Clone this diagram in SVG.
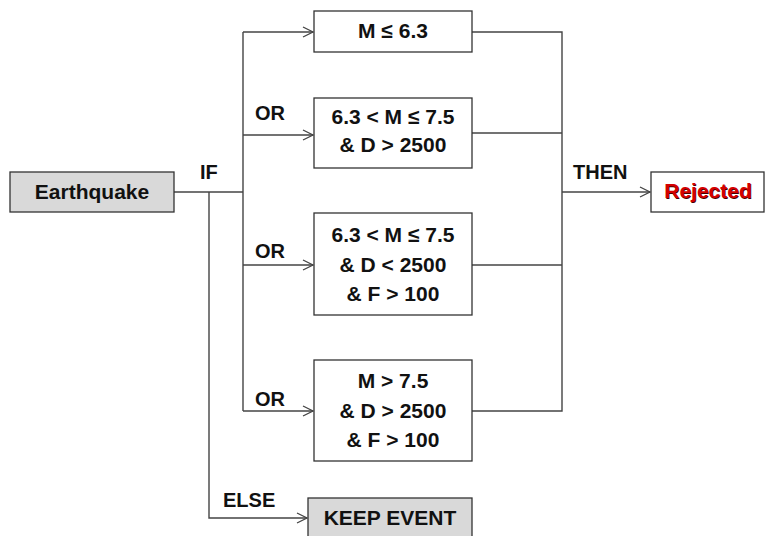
<svg xmlns="http://www.w3.org/2000/svg" width="765" height="536" viewBox="0 0 765 536">
<style>
.box{fill:#fff;stroke:#333;stroke-width:1.3}
.grey{fill:#d9d9d9}
.t{font-family:"Liberation Sans",Arial,sans-serif;font-weight:bold;font-size:21px;fill:#111;text-anchor:middle}
.lbl{font-family:"Liberation Sans",Arial,sans-serif;font-weight:bold;font-size:20px;fill:#111}
.ln{fill:none;stroke:#444;stroke-width:1.4}
</style>
<defs>
<marker id="arr" markerUnits="userSpaceOnUse" markerWidth="14" markerHeight="12" refX="11" refY="6" orient="auto">
<path d="M1,1 L11,6 L1,11" fill="none" stroke="#444" stroke-width="1.3"/>
</marker>
</defs>
<g id="connectors">
<path class="ln" d="M174,192 H243"/>
<path class="ln" d="M243,32 V411"/>
<path class="ln" d="M243,32 H313" marker-end="url(#arr)"/>
<path class="ln" d="M243,135 H313" marker-end="url(#arr)"/>
<path class="ln" d="M243,265 H313" marker-end="url(#arr)"/>
<path class="ln" d="M243,411 H313" marker-end="url(#arr)"/>
<path class="ln" d="M209,192 V518 H307" marker-end="url(#arr)"/>
<path class="ln" d="M472,32 H562 V411 H472"/>
<path class="ln" d="M472,133 H562"/>
<path class="ln" d="M472,265 H562"/>
<path class="ln" d="M562,192 H650" marker-end="url(#arr)"/>
<text class="lbl" x="200" y="179">IF</text>
<text class="lbl" x="255" y="120">OR</text>
<text class="lbl" x="255" y="258">OR</text>
<text class="lbl" x="255" y="406">OR</text>
<text class="lbl" x="223" y="507">ELSE</text>
<text class="lbl" x="573" y="179">THEN</text>
</g>
<g id="earthquake">
<rect class="box grey" x="10" y="172" width="164" height="40"/>
<text class="t" x="92" y="199">Earthquake</text>
</g>
<g id="cond1">
<rect class="box" x="314" y="11" width="158" height="41"/>
<text class="t" x="393" y="38">M ≤ 6.3</text>
</g>
<g id="cond2">
<rect class="box" x="314" y="98" width="158" height="70"/>
<text class="t" x="393" y="124">6.3 &lt; M ≤ 7.5</text>
<text class="t" x="393" y="152">&amp; D &gt; 2500</text>
</g>
<g id="cond3">
<rect class="box" x="314" y="213" width="158" height="102"/>
<text class="t" x="393" y="242">6.3 &lt; M ≤ 7.5</text>
<text class="t" x="393" y="272">&amp; D &lt; 2500</text>
<text class="t" x="393" y="301">&amp; F &gt; 100</text>
</g>
<g id="cond4">
<rect class="box" x="314" y="360" width="158" height="101"/>
<text class="t" x="393" y="388">M &gt; 7.5</text>
<text class="t" x="393" y="418">&amp; D &gt; 2500</text>
<text class="t" x="393" y="447">&amp; F &gt; 100</text>
</g>
<g id="rejected">
<rect class="box" x="651" y="172" width="113" height="40"/>
<text class="t" x="708.8" y="198.8" style="fill:#400">Rejected</text>
<text class="t" x="708" y="198" style="fill:#d40000">Rejected</text>
</g>
<g id="keep">
<rect class="box grey" x="308" y="498" width="164" height="50"/>
<text class="t" x="390" y="525">KEEP EVENT</text>
</g>
</svg>
